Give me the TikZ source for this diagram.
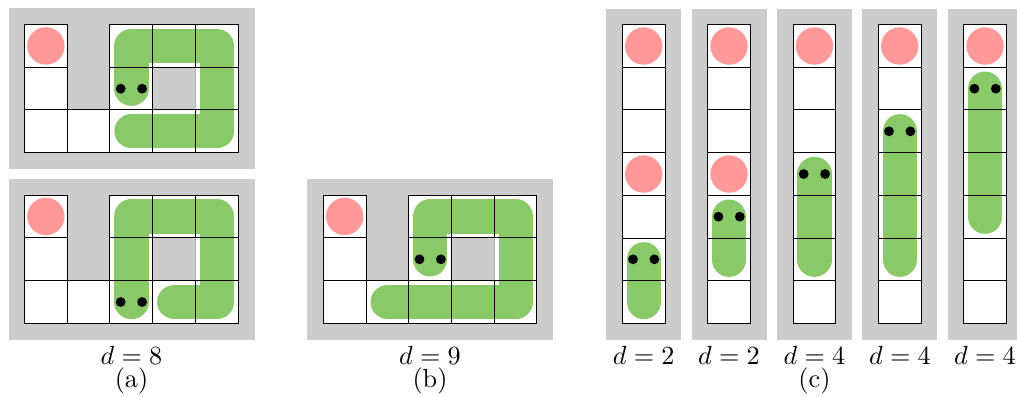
\documentclass[tikz,border=0pt]{standalone}
\definecolor{panelgray}{HTML}{CCCCCC}
\definecolor{snakegreen}{HTML}{89C968}
\definecolor{applepink}{HTML}{FF9999}
\definecolor{faintedge}{HTML}{B0B0B0}
\tikzset{
  panel/.style={fill=panelgray,draw=none},
  cellbg/.style={fill=white,draw=none},
  celledge/.style={draw=black,line width=0.36pt},
  holeedge/.style={draw=faintedge,line width=0.36pt},
  apple/.style={fill=applepink,draw=none},
  snake/.style={draw=snakegreen,line width=13.1pt,line cap=round,line join=round},
  eye/.style={fill=black,draw=none},
  caption/.style={inner sep=0pt,anchor=base,text=black}
}
% panel of the maze, origin (#1,#2)
\newcommand{\mazecells}[2]{%
  \begin{scope}[shift={(#1,#2)}]
    \foreach \c/\r in {0/0,0/1,0/2,1/2,2/0,2/1,2/2,3/0,3/2,4/0,4/1,4/2}
      \fill[cellbg] (\c*42.7,\r*42.7) rectangle ++(42.7,42.7);
    \fill[apple] (21.4,21.4) circle[radius=18.7];
  \end{scope}}
\newcommand{\mazeedges}[2]{%
  \begin{scope}[shift={(#1,#2)}]
    \draw[holeedge] (170.8,42.7) -- (170.8,85.4);
    \foreach \c/\r in {0/0,0/1,0/2,1/2,2/0,2/1,2/2,3/0,3/2,4/0,4/2}
      \draw[celledge] (\c*42.7,\r*42.7) rectangle ++(42.7,42.7);
    \draw[celledge] (170.8,42.7) -- (213.5,42.7) -- (213.5,85.4) -- (170.8,85.4);
    \draw[celledge] (128.1,42.7) -- (170.8,42.7);
    \draw[celledge] (128.1,85.4) -- (170.8,85.4);
  \end{scope}}
\newcommand{\eyes}[2]{%
  \fill[eye] (#1-10.7,#2) circle[radius=4.9];
  \fill[eye] (#1+10.7,#2) circle[radius=4.9];}
% column panel: left of gray, right of gray, grid x, second apple?, head y, tail y
\newcommand{\column}[6]{%
  \fill[panel] (#1,9) rectangle (#2,340);
  \foreach \r in {0,...,6}
    \fill[cellbg] (#3,24.5+\r*42.7) rectangle ++(42.8,42.7);
  \fill[apple] (#3+21.4,46) circle[radius=18.7];
  \ifnum#4=1 \fill[apple] (#3+21.4,174) circle[radius=18.7];\fi
  \draw[snake] (#3+21.4,#5) -- (#3+21.4,#6);
  \eyes{#3+21.4}{#5}
  \foreach \r in {0,...,6}
    \draw[celledge] (#3,24.5+\r*42.7) rectangle ++(42.8,42.7);}
\begin{document}
\begin{tikzpicture}[x=0.3817pt,y=-0.3817pt]
\useasboundingbox (0,0) rectangle (1017,396);
% (a) top
\fill[panel] (9,8) rectangle (255,169);
\mazecells{24.5}{24.5}
\draw[snake] (131.5,88.7) -- (131.5,46) -- (217,46) -- (217,131.3) -- (131.5,131.3);
\eyes{131.4}{88.7}
\mazeedges{24.5}{24.5}
% (a) bottom
\fill[panel] (9,179) rectangle (255,340);
\mazecells{24.5}{195}
\draw[snake] (131.5,302) -- (131.5,216.5) -- (217,216.5) -- (217,302) -- (174.3,302);
\eyes{131.4}{302}
\mazeedges{24.5}{195}
% (b)
\fill[panel] (307,179) rectangle (553,340);
\mazecells{323.3}{195}
\draw[snake] (430.3,259.3) -- (430.3,216.5) -- (515.7,216.5) -- (515.7,302) -- (387.7,302);
\eyes{430.2}{259.3}
\mazeedges{323.3}{195}
% (c)
\column{606}{681}{622.3}{1}{259.3}{302}
\column{692}{767}{707.7}{1}{216.7}{259.7}
\column{777}{852}{793}{0}{174}{259.7}
\column{862}{937}{878.3}{0}{131.3}{259.7}
\column{948}{1017}{963.7}{0}{88.7}{216.7}
% captions
\node[caption] (da) at (131.5,364) {$d=8$};
\node[caption] (ca) at (131.5,387) {(a)};
\node[caption] (db) at (430,364) {$d=9$};
\node[caption] (cb) at (430,387) {(b)};
\node[caption] (d1) at (643.7,364) {$d=2$};
\node[caption] (d2) at (729,364) {$d=2$};
\node[caption] (d3) at (814.5,364) {$d=4$};
\node[caption] (d4) at (900,364) {$d=4$};
\node[caption] (d5) at (985,364) {$d=4$};
\node[caption] (cc) at (814.5,387) {(c)};
\end{tikzpicture}
\end{document}
